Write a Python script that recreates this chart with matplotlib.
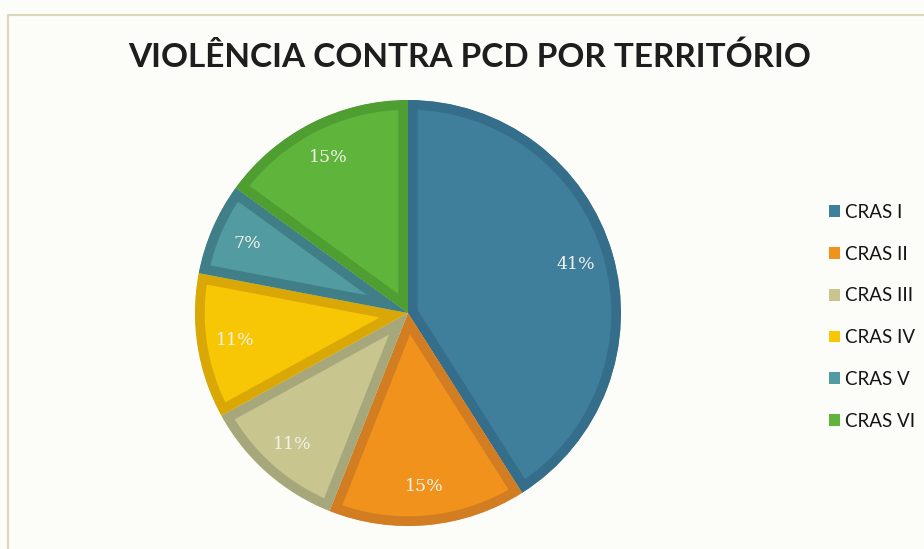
import matplotlib.pyplot as plt
from matplotlib.patches import Rectangle

# Data
labels = ['CRAS I', 'CRAS II', 'CRAS III', 'CRAS IV', 'CRAS V', 'CRAS VI']
values = [41, 15, 11, 11, 7, 15]
fill_colors = ['#3f7f9c', '#f0921c', '#c9c58e', '#f7c705', '#519ba1', '#5fb43c']
edge_colors = ['#356e8b', '#d37d22', '#a6a87c', '#d9a806', '#417f88', '#4f9e31']

W, H = 924, 549
fig = plt.figure(figsize=(W / 100, H / 100), dpi=100)
fig.patch.set_facecolor('#fcfcf8')

# scan frame lines
fig.add_artist(Rectangle((8 / W, -0.01), 1.05, 1 - 15 / H + 0.01, transform=fig.transFigure,
                         fill=False, edgecolor='#dcd9b8', linewidth=1.5))

cx, cy, r = 408, 313, 213
ax = fig.add_axes([(cx - r) / W, (H - cy - r) / H, 2 * r / W, 2 * r / H])
wedges, texts, autotexts = ax.pie(values, colors=fill_colors, startangle=90, counterclock=False,
                                  autopct='%1.0f%%', pctdistance=0.82, radius=1,
                                  textprops=dict(color='#f2f2ec', fontsize=12.5, family='DejaVu Serif'))
# darker inner border on every slice
for w, ec in zip(wedges, edge_colors):
    w.set_edgecolor(ec)
    w.set_linewidth(14)
    w.set_joinstyle('bevel')
    w.set_clip_path(w)
    w.set_clip_on(True)
ax.set_xlim(-1, 1)
ax.set_ylim(-1, 1)
ax.set_aspect('equal')
ax.axis('off')

fig.text(470 / W, 1 - 57 / H, 'VIOLÊNCIA CONTRA PCD POR TERRITÓRIO', ha='center', va='center',
         fontsize=24, fontweight='bold', family='Lato', color='#1e1e1e')

handles = [Rectangle((0, 0), 1, 1, facecolor=c, edgecolor='none') for c in fill_colors]
fig.legend(handles, labels, loc='upper left', bbox_to_anchor=(812 / W, 1 - 187 / H),
           frameon=False, prop=dict(family='Lato', size=13.5), labelspacing=1.32,
           handlelength=0.6, handleheight=0.6, handletextpad=0.25, labelcolor='#151515')

fig.savefig('out.png', dpi=100, facecolor=fig.get_facecolor())
